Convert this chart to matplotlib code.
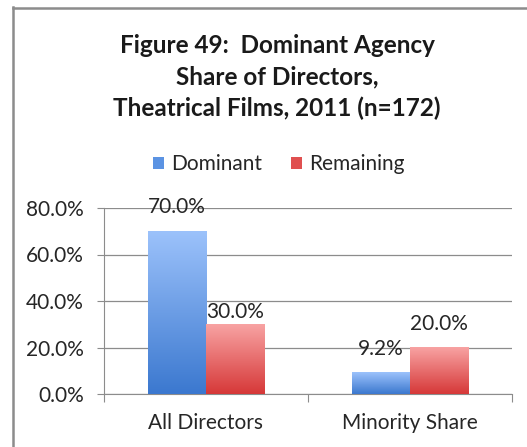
import numpy as np
import matplotlib
matplotlib.use("Agg")
import matplotlib.pyplot as plt
from matplotlib.colors import LinearSegmentedColormap
from matplotlib.patches import Rectangle
from matplotlib.lines import Line2D

# Data
categories = ["All Directors", "Minority Share"]
series_names = ["Dominant", "Remaining"]
dominant = [0.700, 0.092]
remaining = [0.300, 0.200]
y_ticks = [0.0, 0.2, 0.4, 0.6, 0.8]
title = "Figure 49:  Dominant Agency\nShare of Directors,\nTheatrical Films, 2011 (n=172)"

plt.rcParams["font.family"] = ["Lato", "DejaVu Sans"]
TEXT = "#262626"
FS = 15

fig = plt.figure(figsize=(5.27, 4.47), dpi=100)
fig.patch.set_facecolor("white")

# chart frame (left and top edges visible)
fig.add_artist(Line2D([13 / 527, 13 / 527], [0, 1 - 7 / 447], transform=fig.transFigure,
                      color="#8c8c8c", lw=1.8))
fig.add_artist(Line2D([13 / 527, 1], [1 - 7.5 / 447, 1 - 7.5 / 447], transform=fig.transFigure,
                      color="#8c8c8c", lw=1.8))

ax = fig.add_axes([104 / 527, 53 / 447, 408 / 527, 186 / 447])

x = np.arange(len(categories))
width = 0.285

grad_blue = LinearSegmentedColormap.from_list("gb", ["#3b78cf", "#9cc2fb"])
grad_red = LinearSegmentedColormap.from_list("gr", ["#d63838", "#f8a3a3"])
grad = np.linspace(0, 1, 256).reshape(-1, 1)

def gradient_bars(xpos, values, cmap):
    bars = ax.bar(xpos, values, width, color="none", edgecolor="none", zorder=3)
    for b in bars:
        x0, y0, w, h = b.get_x(), b.get_y(), b.get_width(), b.get_height()
        ax.imshow(grad, cmap=cmap, origin="lower", aspect="auto",
                  extent=(x0, x0 + w, y0, y0 + h), zorder=3, interpolation="bilinear")
    return bars

b1 = gradient_bars(x - width / 2, dominant, grad_blue)
b2 = gradient_bars(x + width / 2, remaining, grad_red)
ax.set_xlim(-0.5, 1.5)
ax.set_ylim(0, 0.8)

# value labels
label_gap = {("Dominant", 0): 14, ("Remaining", 0): 2, ("Dominant", 1): 14, ("Remaining", 1): 14}
for name, bars, vals in [("Dominant", b1, dominant), ("Remaining", b2, remaining)]:
    for i, (b, v) in enumerate(zip(bars, vals)):
        ax.annotate(f"{v * 100:.1f}%", (b.get_x() + b.get_width() / 2, v),
                    xytext=(0, label_gap[(name, i)]), textcoords="offset pixels",
                    ha="center", va="bottom", fontsize=FS, color=TEXT, zorder=4)

# grid and axes
ax.set_yticks(y_ticks)
ax.set_yticklabels([f"{t * 100:.1f}%" for t in y_ticks])
ax.yaxis.grid(True, color="#8c8c8c", lw=0.9, zorder=0)
ax.set_axisbelow(True)
for s in ["top", "right"]:
    ax.spines[s].set_visible(False)
ax.spines["left"].set_color("#8c8c8c")
ax.spines["bottom"].set_color("#8c8c8c")
ax.tick_params(axis="y", length=5, color="#8c8c8c", labelsize=FS, labelcolor=TEXT, pad=9.5)
ax.set_xticks([-0.5, 0.5, 1.5])
ax.set_xticklabels([])
ax.set_xticks(x, minor=True)
ax.set_xticklabels(categories, minor=True)
ax.tick_params(axis="x", which="major", length=6, color="#8c8c8c")
ax.tick_params(axis="x", which="minor", length=0, labelsize=FS, labelcolor=TEXT, pad=14)

fig.text(277 / 527, 1 - 34 / 447, title, ha="center", va="top", fontsize=17.5,
         fontweight="bold", color="#1a1a1a", linespacing=1.42)

handles = [Rectangle((0, 0), 1, 1, facecolor="#5b93e3"), Rectangle((0, 0), 1, 1, facecolor="#e05050")]
fig.legend(handles, series_names, loc="center", bbox_to_anchor=(279 / 527, 1 - 164 / 447),
           ncol=2, frameon=False, fontsize=FS, handlelength=0.5, handleheight=0.5,
           handletextpad=0.35, columnspacing=1.4, labelcolor=TEXT)

fig.savefig("out.png", dpi=100, facecolor="white")
